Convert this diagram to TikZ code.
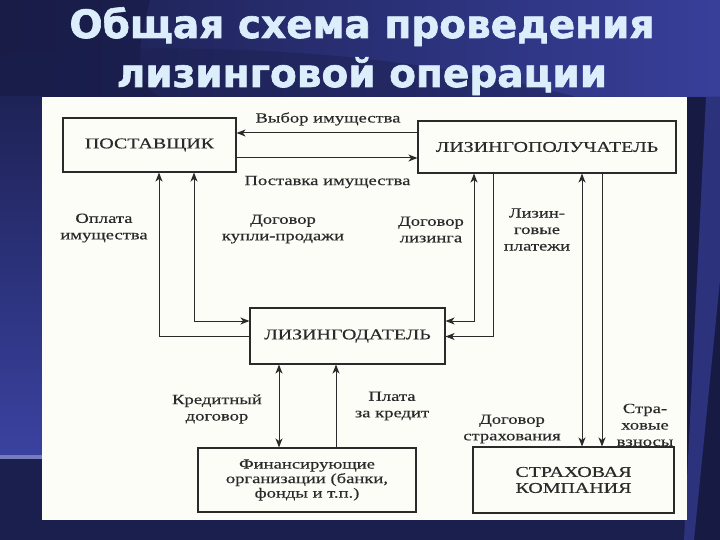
\documentclass[tikz,border=0pt]{standalone}
\usepackage{fontspec}
\usetikzlibrary{arrows.meta}
\newfontfamily\diagfont{Liberation Serif}[FakeStretch=1.33,FakeBold=0.4]
\newfontfamily\titlefont{DejaVu Sans}[BoldFeatures={FakeBold=1.6}]
\definecolor{ink}{HTML}{2A2A2A}
\definecolor{bgbase}{HTML}{2A2E72}
\definecolor{bgdark}{HTML}{1B1F4E}
\definecolor{bglight}{HTML}{3A42A0}
\definecolor{titlecol}{HTML}{DCEEFB}
\definecolor{paper}{HTML}{FDFDF8}
\tikzset{
  box/.style={draw=ink, line width=1.1pt, inner sep=0pt, align=center, text=ink,
    font=\diagfont\fontsize{15}{16}\selectfont},
  lbl/.style={inner sep=0pt, align=center, text=ink,
    font=\diagfont\fontsize{14}{16.5}\selectfont},
  conn/.style={draw=ink, line width=1pt},
  tipa/.tip={Stealth[length=9pt,width=7pt,inset=2.5pt]},
  arr/.style={conn, -tipa},
  darr/.style={conn, tipa-tipa},
  ttl/.style={inner sep=0pt, anchor=base, text=titlecol,
    font=\titlefont\bfseries\fontsize{39}{41}\selectfont}
}
\begin{document}
\begin{tikzpicture}[x=1pt,y=-1pt]
\useasboundingbox (0,0) rectangle (720,540);
% background
\fill[bgbase] (0,0) rectangle (720,540);
\shade[left color=bgdark, right color=bglight!85!bgbase] (0,0) rectangle (720,97);
\fill[bgdark!85!black, opacity=0.6] (0,0) -- (150,0) .. controls (140,40) and (130,80) .. (160,97) -- (0,97) -- cycle;
\fill[bgdark, opacity=0.45] (0,55) .. controls (250,35) and (520,60) .. (700,140) -- (720,140) -- (720,97) -- (0,97) -- cycle;
\shade[top color=bgdark!90!bglight, bottom color=bglight] (0,97) rectangle (42,455);
\fill[bglight!70!white] (0,455) rectangle (42,459);
\fill[bgdark] (0,459) rectangle (720,540);
\fill[bgdark!85!black] (687,97) rectangle (720,540);
\fill[bglight!55!bgdark] (706,97) -- (720,97) -- (720,280) -- (694,540) -- (684,540) -- cycle;
% title
\node[ttl] (t1) at (362,38) {Общая схема проведения};
\node[ttl] (t2) at (362,87) {лизинговой операции};
% paper
\fill[paper] (42,97) rectangle (687,520);
% boxes
\node[box, minimum width=173pt, minimum height=54pt] (post) at (149.5,145) {ПОСТАВЩИК};
\node[box, minimum width=258pt, minimum height=52pt] (lp) at (547,147) {ЛИЗИНГОПОЛУЧАТЕЛЬ};
\node[box, minimum width=195pt, minimum height=56pt] (ld) at (347.5,336) {ЛИЗИНГОДАТЕЛЬ};
\node[box, minimum width=218pt, minimum height=64pt, font=\diagfont\fontsize{14}{14.5}\selectfont] (fin) at (307,480) {Финансирующие\\организации (банки,\\фонды и т.п.)};
\node[box, minimum width=201pt, minimum height=66pt] (sk) at (573.5,480) {СТРАХОВАЯ\\КОМПАНИЯ};
% helper coordinates
\coordinate (xa) at (159,0);
\coordinate (xb) at (194,0);
\coordinate (xc) at (474,0);
\coordinate (xd) at (493,0);
\coordinate (xe) at (582,0);
\coordinate (xf) at (602,0);
\coordinate (xg) at (279,0);
\coordinate (xh) at (336,0);
% connectors
\draw[arr] (lp.west |- 0,133) -- (post.east |- 0,133);
\draw[arr] (post.east |- 0,158) -- (lp.west |- 0,158);
\draw[arr] (ld.west |- 0,336) -| (xa |- post.south);
\draw[darr] (xb |- post.south) |- (ld.west |- 0,321);
\draw[darr] (xc |- lp.south) |- (ld.east |- 0,321);
\draw[arr] (xd |- lp.south) |- (ld.east |- 0,336.5);
\draw[darr] (xe |- lp.south) -- (xe |- sk.north);
\draw[arr] (xf |- lp.south) -- (xf |- sk.north);
\draw[darr] (xg |- ld.south) -- (xg |- fin.north);
\draw[arr] (xh |- fin.north) -- (xh |- ld.south);
% labels
\node[lbl] (l1) at (328,119) {Выбор имущества};
\node[lbl] (l2) at (327.5,182) {Поставка имущества};
\node[lbl] (l3) at (104,228) {Оплата\\имущества};
\node[lbl] (l4) at (283,229) {Договор\\купли-продажи};
\node[lbl] (l5) at (431,229.5) {Договор\\лизинга};
\node[lbl] (l6) at (537,229.5) {Лизин-\\говые\\платежи};
\node[lbl] (l7) at (217,409) {Кредитный\\договор};
\node[lbl] (l8) at (392,406) {Плата\\за кредит};
\node[lbl] (l9) at (512,429) {Договор\\страхования};
\node[lbl] (l10) at (645,425) {Стра-\\ховые\\взносы};
\end{tikzpicture}
\end{document}
